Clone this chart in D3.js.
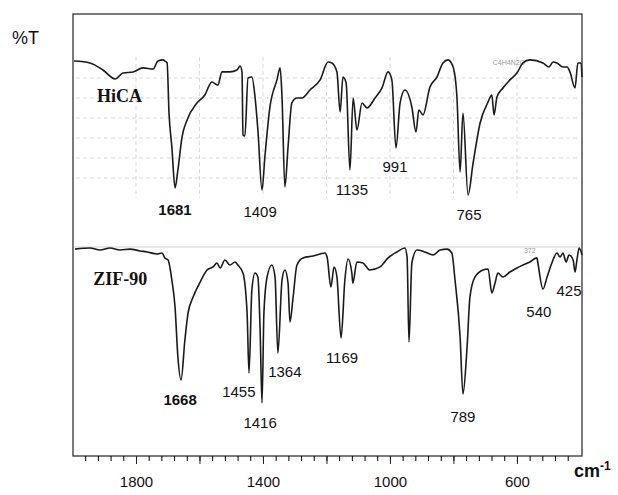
<!DOCTYPE html>
<html>
<head>
    <meta charset="utf-8">
    <title>HiCA / ZIF-90 IR</title>
    <script src="https://cdn.jsdelivr.net/npm/d3@7"></script>
    <style>
        body { margin: 0; background: #fff; }
        svg { display: block; font-family: "Liberation Sans", Arial, sans-serif; }
        .spec { fill: none; stroke: #1a1a1a; stroke-width: 1.6px; stroke-linejoin: round; }
        .grid { stroke: #d9d9d9; stroke-width: 1px; stroke-dasharray: 4,3; }
        .frame { fill: none; stroke: #222; stroke-width: 1.2px; }
        .peak { font-size: 15px; fill: #111; text-anchor: middle; }
        .peak.bold { font-weight: bold; }
        .name { font-family: "Liberation Serif", "Times New Roman", serif; font-weight: bold; font-size: 18px; fill: #111; }
        .tiny { font-size: 7px; fill: #999; }
    </style>
</head>
<body>
<script>
    // wavenumber (cm-1), %T (arbitrary, per panel)
    var hicaWn = [1995, 1945, 1904, 1866, 1841, 1809, 1778, 1746, 1731, 1715, 1709, 1702,
        1696, 1687, 1677, 1668, 1655, 1639, 1608, 1583, 1561, 1542, 1529, 1504, 1482, 1472,
        1466, 1463, 1457, 1447, 1435, 1425, 1416, 1403, 1394, 1378, 1356, 1346, 1340, 1331,
        1321, 1309, 1293, 1277, 1252, 1220, 1195, 1183, 1167, 1157, 1148, 1138, 1126, 1116,
        1104, 1088, 1072, 1047, 1025, 1006, 994, 981, 968, 953, 931, 918, 909, 896, 874, 852,
        833, 817, 801, 789, 779, 770, 754, 738, 716, 691, 679, 672, 663, 644, 622, 600, 581,
        559, 518, 499, 486, 474, 455, 442, 433, 417, 408, 398, 395];
    var hicaT = [98.1, 96.9, 92.5, 86.9, 90.6, 91.3, 93.8, 93.1, 98.1, 98.8, 98.1, 96.9,
        65.6, 44.4, 18.8, 30, 50.6, 61.3, 71.9, 76.9, 85, 83.1, 91.3, 91.3, 92.5, 95,
        91.3, 51.9, 51.3, 87.5, 88.1, 75.6, 55, 17.5, 38.1, 69.4, 86.3, 93.8, 75.6, 19.4,
        44.4, 71.9, 75, 75, 80, 86.3, 97.5, 96.9, 91.3, 66.3, 88.1, 84.4, 30, 75,
        55, 71.9, 68.8, 75, 81.3, 91.3, 86.3, 43.8, 71.9, 80, 69.4, 53.8, 67.5, 64.4, 81.9, 88.1,
        96.9, 98.8, 94.4, 75.6, 28.8, 65.6, 14.4, 34.4, 59.4, 72.5, 76.9, 64.4, 75.6, 81.3, 86.3, 90.6, 96.9,
        98.8, 96.9, 94.4, 97.5, 96.9, 94.4, 94.4, 91.3, 81.3, 96.9, 96.9, 88.1];

    var zifWn = [1992, 1945, 1913, 1882, 1850, 1819, 1787, 1765, 1734, 1718, 1709, 1699,
        1687, 1677, 1668, 1658, 1646, 1636, 1620, 1598, 1576, 1557, 1545, 1535, 1520, 1504,
        1488, 1479, 1463, 1450, 1444, 1435, 1425, 1416, 1409, 1403, 1397, 1387, 1372, 1362,
        1353, 1340, 1331, 1321, 1315, 1305, 1293, 1274, 1242, 1205, 1198, 1186, 1176, 1167,
        1154, 1142, 1132, 1120, 1117, 1104, 1085, 1063, 1031, 1006, 978, 953, 946, 940, 931,
        915, 890, 864, 842, 820, 805, 795, 779, 770, 757, 748, 732, 707, 691, 679, 669, 660,
        644, 622, 600, 581, 559, 537, 534, 518, 505, 490, 474, 464, 455, 445, 436, 423, 417,
        411, 404, 395];
    var zifT = [97.6, 98.2, 97.1, 98.2, 97.1, 97.6, 96.5, 95.9, 94.7, 95.3, 92.4, 91.2,
        79.4, 63.5, 34.1, 20.6, 44.1, 60, 69.4, 78.2, 85.3, 87.1, 89.4, 86.5, 91.2, 88.2,
        90, 88.2, 83.5, 60, 24.7, 73.5, 83.5, 81.2, 50, 7.1, 60, 81.2, 88.2, 81.2,
        36.5, 79.4, 85.3, 77.6, 54.7, 69.4, 88.2, 92.4, 93.5, 95.3, 92.9, 75.3, 87.1, 81.2,
        45.3, 79.4, 91.8, 83.5, 77.6, 90, 89.4, 85.3, 87.1, 92.4, 95.9, 98.2, 92.9, 42.9, 89.4,
        97.1, 95.9, 94.1, 97.1, 97.6, 95.3, 79.4, 45.9, 12.4, 40, 69.4, 81.2, 85.3, 85.9, 71.8, 77.6, 83.5,
        81.2, 84.1, 86.5, 88.2, 90, 92.4, 89.4, 74.1, 81.2, 89.4, 95.3, 92.9, 95.3, 90, 94.1, 91.2, 84.1,
        91.2, 98.2, 94.1];

    // peak labels: text, wavenumber, %T where the baseline sits, bold?
    var hicaLabels = [["1681", 1677, 1.9, true], ["1409", 1409, 0.6, false], ["1135", 1120, 14.4, false],
        ["991", 984, 28.8, false], ["765", 751, -1.3, false]];
    var zifLabels = [["1668", 1661, 5.9, true], ["1455", 1476, 10.6, false], ["1416", 1409, -7.6, false],
        ["1364", 1331, 22.4, false], ["1169", 1151, 30.6, false], ["789", 770, -4.1, false],
        ["540", 531, 57.6, false], ["425", 436, 70, false]];

    var gridT = [87.5, 75, 62.5, 50, 37.5, 25];
    var gridWn = [1800, 1600, 1400, 1200, 1000, 800, 600];
    var minorTicks = d3.range(1960, 439, -40);
    var majorTicks = [1800, 1600, 1400, 1200, 1000, 800, 600];
    var tickLabels = [1800, 1400, 1000, 600];

    var width = 618, height = 495;

    var svg = d3.select("body").append("svg")
        .attr("width", width)
        .attr("height", height);

    var x = d3.scaleLinear().domain([2000, 395]).range([72.5, 582]);
    var yTop = d3.scaleLinear().domain([0, 100]).range([218, 58]);
    var yBot = d3.scaleLinear().domain([0, 100]).range([415, 245]);

    // grid of the upper panel
    var grid = svg.append("g");
    grid.selectAll(".h").data(gridT).enter().append("line")
        .attr("class", "grid")
        .attr("x1", 76).attr("x2", 580)
        .attr("y1", function (d) { return yTop(d); })
        .attr("y2", function (d) { return yTop(d); });
    grid.selectAll(".v").data(gridWn).enter().append("line")
        .attr("class", "grid")
        .attr("x1", function (d) { return x(d); })
        .attr("x2", function (d) { return x(d); })
        .attr("y1", 57).attr("y2", 198);

    // thin line on top of the lower spectrum
    svg.append("line")
        .attr("x1", 74).attr("x2", 580)
        .attr("y1", 247).attr("y2", 247)
        .attr("stroke", "#cfcfcf");

    svg.append("text").attr("class", "tiny")
        .attr("x", x(676)).attr("y", yTop(95.6)).text("C4H4N2O");
    svg.append("text").attr("class", "tiny")
        .attr("x", x(578)).attr("y", yBot(95.3)).text("372");

    function drawSpec(wn, t, y) {
        var pts = wn.map(function (d, i) { return [d, t[i]]; });
        var line = d3.line()
            .x(function (d) { return x(d[0]); })
            .y(function (d) { return y(d[1]); })
            .curve(d3.curveMonotoneX);
        svg.append("path").datum(pts).attr("class", "spec").attr("d", line);
    }
    drawSpec(hicaWn, hicaT, yTop);
    drawSpec(zifWn, zifT, yBot);

    function drawLabels(labels, y) {
        svg.append("g").selectAll("text").data(labels).enter().append("text")
            .attr("class", function (d) { return d[3] ? "peak bold" : "peak"; })
            .attr("x", function (d) { return x(d[1]); })
            .attr("y", function (d) { return y(d[2]); })
            .text(function (d) { return d[0]; });
    }
    drawLabels(hicaLabels, yTop);
    drawLabels(zifLabels, yBot);

    svg.append("text").attr("class", "name").attr("x", x(1923)).attr("y", yTop(72.5)).text("HiCA");
    svg.append("text").attr("class", "name").attr("x", x(1935)).attr("y", yBot(76.5)).text("ZIF-90");

    // frame
    svg.append("rect").attr("class", "frame")
        .attr("x", 73).attr("y", 14)
        .attr("width", 509).attr("height", 442);

    // x axis
    var axisY = 456;
    var minor = d3.axisBottom(x).tickValues(minorTicks).tickSize(5).tickFormat("");
    svg.append("g").attr("transform", "translate(0," + axisY + ")").call(minor)
        .call(function (g) { g.select(".domain").remove(); });
    var major = d3.axisBottom(x).tickValues(majorTicks).tickSize(8).tickPadding(12)
        .tickFormat(function (d) { return tickLabels.indexOf(d) >= 0 ? d : ""; });
    svg.append("g").attr("transform", "translate(0," + axisY + ")").call(major)
        .call(function (g) {
            g.select(".domain").remove();
            g.selectAll("text").attr("font-size", 15).attr("font-family", "Liberation Sans, Arial, sans-serif").attr("fill", "#111");
            g.selectAll("line").attr("stroke", "#222");
        });

    var unit = svg.append("text").attr("x", 574).attr("y", 477)
        .attr("font-size", 18).attr("font-weight", "bold").attr("fill", "#111");
    unit.append("tspan").text("cm");
    unit.append("tspan").attr("dy", -7).attr("font-size", 12).text("-1");

    svg.append("text").attr("x", 12).attr("y", 44)
        .attr("font-size", 18).attr("fill", "#111").text("%T");
</script>
</body>
</html>
